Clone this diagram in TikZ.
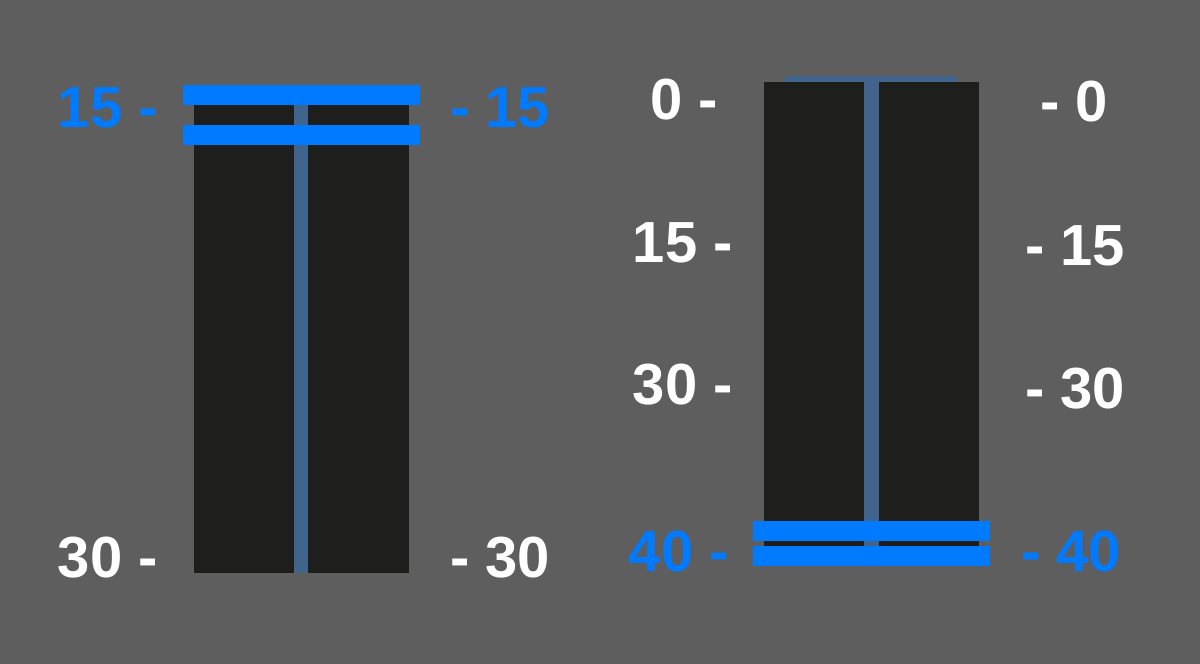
\documentclass[tikz,border=0pt]{standalone}
\usepackage{fontspec}
\setmainfont{Liberation Sans}
\definecolor{bg}{HTML}{5E5E5E}
\definecolor{trackcol}{HTML}{1E1E1C}
\definecolor{stemcol}{HTML}{40648C}
\definecolor{handlecol}{HTML}{007AFF}
\tikzset{
  track/.style={fill=trackcol},
  stem/.style={fill=stemcol},
  handle/.style={fill=handlecol},
  lbl/.style={inner sep=0pt, font=\fontsize{58}{58}\selectfont\bfseries, text=white},
  lblsel/.style={lbl, text=handlecol},
}
\begin{document}
\begin{tikzpicture}[x=1pt, y=-1pt]
    % 背景
    \fill[bg] (0,0) rectangle (1200,664);
    \useasboundingbox (0,0) rectangle (1200,664);
    % 左侧滑块
    \fill[track] (194,95) rectangle (409,573);
    \fill[stem] (294,95) rectangle (308,573);
    \fill[handle] (183,85) rectangle (420,105);
    \fill[handle] (183,125) rectangle (420,145);
    \node[lblsel, anchor=base east] (L15a) at (158,127) {15 -};
    \node[lblsel, anchor=base west] (L15b) at (450,127) {- 15};
    \node[lbl, anchor=base east] (L30a) at (158,577) {30 -};
    \node[lbl, anchor=base west] (L30b) at (450,577) {- 30};
    % 右侧滑块
    \fill[stem] (785,76) rectangle (956,82);
    \fill[track] (764,82) rectangle (979,556);
    \fill[stem] (864,76) rectangle (879,556);
    \fill[handle] (753,521) rectangle (990,541);
    \fill[handle] (753,546) rectangle (990,566);
    \node[lbl, anchor=base east] (R0a) at (718,119) {0 -};
    \node[lbl, anchor=base west] (R0b) at (1040,121) {- 0};
    \node[lbl, anchor=base east] (R15a) at (733,262) {15 -};
    \node[lbl, anchor=base west] (R15b) at (1025,265) {- 15};
    \node[lbl, anchor=base east] (R30a) at (733,404) {30 -};
    \node[lbl, anchor=base west] (R30b) at (1025,408) {- 30};
    \node[lblsel, anchor=base east] (R40a) at (729,571) {40 -};
    \node[lblsel, anchor=base west] (R40b) at (1021,571) {- 40};
\end{tikzpicture}
\end{document}
